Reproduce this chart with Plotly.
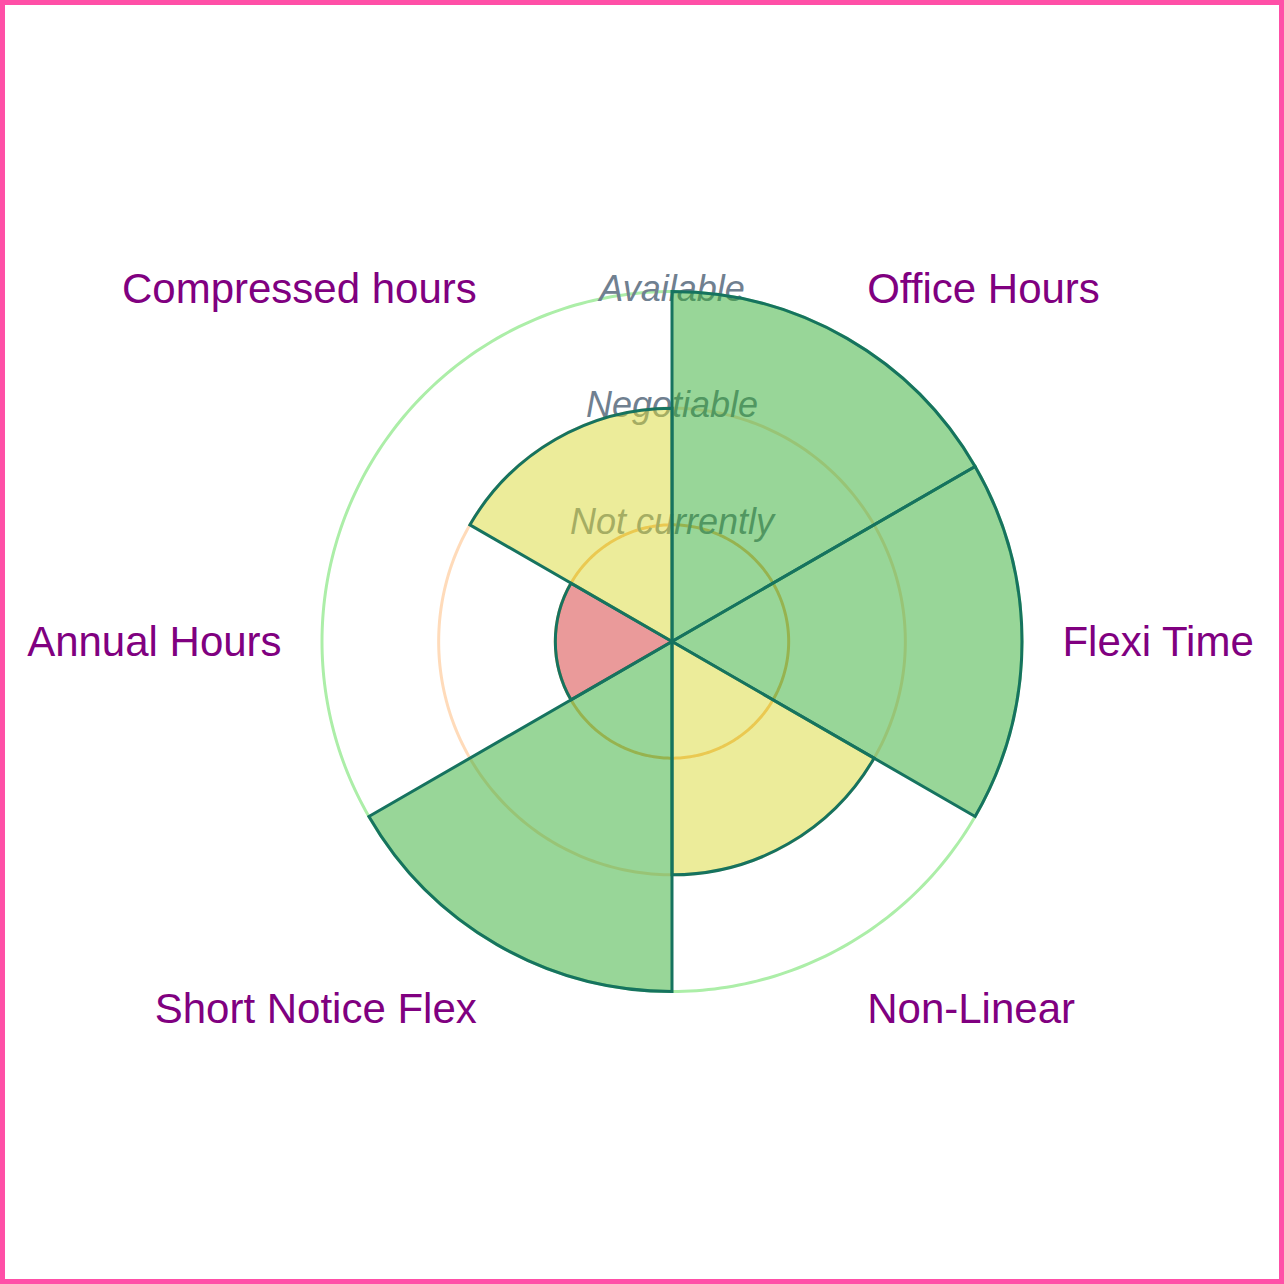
import numpy as np
import plotly.graph_objects as go

# flexible working options and how available each one is
options = ['Office Hours', 'Flexi Time', 'Non-Linear',
           'Short Notice Flex', 'Annual Hours', 'Compressed hours']
levels = [3, 3, 2, 3, 1, 2]

level_names = ['Not currently', 'Negotiable', 'Available']
level_vals = [1, 2, 3]
level_fill = {1: 'rgba(213,53,53,0.5)', 2: 'rgba(217,217,53,0.5)', 3: 'rgba(49,173,49,0.5)'}
ring_colors = ['rgba(250,160,60,0.75)', 'rgba(255,190,130,0.55)', 'rgb(172,238,168)']
edge = 'rgb(22,115,95)'

step = 360 / len(options)
angles = [i * step + step / 2 for i in range(len(options))]

fig = go.Figure()

# back layer: coloured rings and level names
circle = np.linspace(0, 360, 361)
for val, col in zip(level_vals, ring_colors):
    fig.add_trace(go.Scatterpolar(
        r=[val] * len(circle),
        theta=circle,
        mode='lines',
        line=dict(color=col, width=3),
        cliponaxis=False,
        hoverinfo='skip',
        showlegend=False,
        subplot='polar',
    ))

fig.add_trace(go.Scatterpolar(
    r=level_vals,
    theta=[0] * len(level_vals),
    mode='text',
    text=level_names,
    textposition='middle center',
    textfont=dict(size=36, color='#708090', style='italic'),
    cliponaxis=False,
    hoverinfo='skip',
    showlegend=False,
    subplot='polar',
))

# front layer: one translucent wedge per option
fig.add_trace(go.Barpolar(
    r=levels,
    theta=angles,
    width=[step] * len(options),
    marker=dict(color=[level_fill[v] for v in levels],
                line=dict(color=edge, width=3)),
    hoverinfo='skip',
    showlegend=False,
    subplot='polar2',
))

W, H = 1284, 1284
r_max = 3.03  # a little headroom so the outer ring is not clipped
ph = 707
ml, mr = 100, 40
mt = (H - ph) // 2
mb = H - ph - mt
pw = W - ml - mr

radial = dict(range=[0, r_max], showticklabels=False, showgrid=False,
              showline=False, ticks='')
full = dict(x=[0, 1], y=[0, 1])

fig.update_layout(
    width=W, height=H,
    margin=dict(l=ml, r=mr, t=mt, b=mb),
    paper_bgcolor='white',
    plot_bgcolor='white',
    font=dict(family='Liberation Sans, Arial, sans-serif'),
    polar=dict(
        domain=full,
        bgcolor='white',
        radialaxis=radial,
        angularaxis=dict(direction='clockwise', rotation=90,
                         showticklabels=False, showgrid=False,
                         showline=False, ticks=''),
    ),
    polar2=dict(
        domain=full,
        bgcolor='rgba(0,0,0,0)',
        barmode='overlay',
        radialaxis=radial,
        angularaxis=dict(
            direction='clockwise',
            rotation=90,
            tickmode='array',
            tickvals=angles,
            ticktext=options,
            tickfont=dict(size=42, color='purple'),
            showgrid=False,
            showline=False,
            ticks='outside',
            ticklen=28,
            tickcolor='rgba(0,0,0,0)',
        ),
    ),
    shapes=[dict(
        type='rect', xref='paper', yref='paper',
        x0=(2.5 - ml) / pw, x1=(W - 2.5 - ml) / pw,
        y0=(H - mb - (H - 2.5)) / ph, y1=(H - mb - 2.5) / ph,
        line=dict(color='#FF4FA7', width=5),
    )],
)

fig.write_html('out.html', config={'displayModeBar': False},
               post_script="document.body.style.margin='0px';")
